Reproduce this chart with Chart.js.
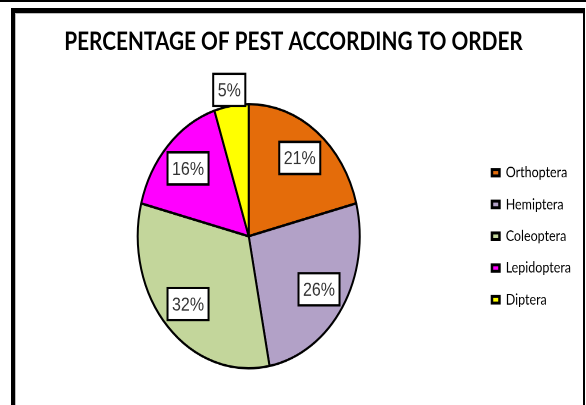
<!DOCTYPE html>
<html>
<head>
<meta charset="utf-8">
<script src="https://cdn.jsdelivr.net/npm/chart.js@4.4.0/dist/chart.umd.min.js"></script>
<style>
  html, body { margin: 0; padding: 0; background: #fff; }
  body { width: 586px; height: 405px; position: relative; overflow: hidden; }
  #wrap { position: absolute; left: 0; top: 0; width: 586px; height: 340px;
          transform: scaleY(1.19); transform-origin: 0 0; }
  #pestChart { width: 586px; height: 340px; display: block; }
  .topline { position: absolute; left: 0; top: 0; width: 586px; height: 2px; background: #000; }
  .frame { position: absolute; left: 11px; top: 8px; width: 574px; height: 420px; box-sizing: border-box;
           border-top: 5px solid #000; border-left: 4px solid #000; border-right: 2px solid #000;
           box-shadow: inset 1px 1px 0 #bdbdbd; }
</style>
</head>
<body>
<div id="wrap"><canvas id="pestChart" width="586" height="340"></canvas></div>
<div class="topline"></div>
<div class="frame"></div>
<script>
// data
const categories = ['Orthoptera', 'Hemiptera', 'Coleoptera', 'Lepidoptera', 'Diptera'];
const percentages = [21, 26, 32, 16, 5];
const sliceColors = ['#E46C0A', '#B2A1C7', '#C3D69B', '#FF00FF', '#FFFF00'];
const chartTitle = 'PERCENTAGE OF PEST ACCORDING TO ORDER';

// boxed % labels, small slices go outside the pie
const boxLabels = {
    id: 'boxLabels',
    afterDatasetsDraw(chart) {
        const ctx = chart.ctx;
        const meta = chart.getDatasetMeta(0);
        ctx.save();
        ctx.font = '16px "Liberation Sans Narrow", "Liberation Sans", Arial, sans-serif';
        ctx.textAlign = 'center';
        ctx.textBaseline = 'middle';
        meta.data.forEach((arc, i) => {
            const p = arc.getProps(['x', 'y', 'startAngle', 'endAngle', 'outerRadius'], true);
            const mid = (p.startAngle + p.endAngle) / 2;
            const text = percentages[i] + '%';
            const w = ctx.measureText(text).width + 9;
            const h = 27;
            const dist = percentages[i] < 10 ? p.outerRadius + h / 2 : p.outerRadius * 0.75;
            const cx = p.x + Math.cos(mid) * dist;
            const cy = p.y + Math.sin(mid) * dist;
            ctx.fillStyle = '#fff';
            ctx.fillRect(cx - w / 2, cy - h / 2, w, h);
            ctx.lineWidth = 2;
            ctx.strokeStyle = '#000';
            ctx.strokeRect(cx - w / 2, cy - h / 2, w, h);
            ctx.fillStyle = '#333';
            ctx.fillText(text, cx, cy + 1);
        });
        ctx.restore();
    }
};

// title drawn centred on the frame, not on the layout box
const frameTitle = {
    id: 'frameTitle',
    afterDraw(chart) {
        const ctx = chart.ctx;
        ctx.save();
        ctx.font = 'bold 20.8px Lato, sans-serif';
        ctx.fillStyle = '#000';
        ctx.textAlign = 'center';
        ctx.textBaseline = 'middle';
        ctx.fillText(chartTitle, 293.5, 35.5);
        ctx.restore();
    }
};

const ctx = document.getElementById('pestChart').getContext('2d');
new Chart(ctx, {
    type: 'pie',
    data: {
        labels: categories,
        datasets: [{
            data: percentages,
            backgroundColor: sliceColors,
            borderColor: '#000',
            borderWidth: 2
        }]
    },
    plugins: [boxLabels, frameTitle],
    options: {
        responsive: false,
        devicePixelRatio: 2,
        animation: false,
        layout: { padding: { left: 19.7, right: 5, top: 86.5, bottom: 29.5 } },
        plugins: {
            tooltip: { enabled: false },
            title: { display: false },
            legend: {
                position: 'right',
                fullSize: false,
                labels: {
                    color: '#000',
                    font: { family: 'Lato', size: 12.5 },
                    boxWidth: 7.5,
                    boxHeight: 5.5,
                    padding: 14.2,
                    generateLabels(chart) {
                        const items = Chart.overrides.pie.plugins.legend.labels.generateLabels(chart);
                        items.forEach(it => { it.lineWidth = 2.5; });
                        return items;
                    }
                }
            }
        }
    }
});
</script>
</body>
</html>
